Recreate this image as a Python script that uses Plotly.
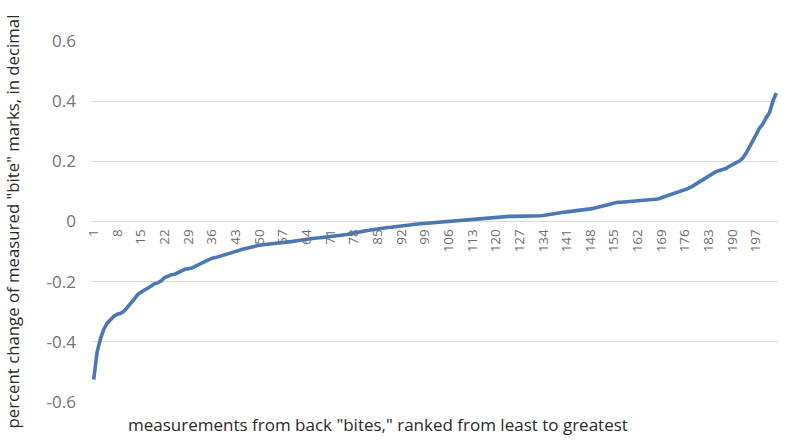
import plotly.graph_objects as go

# ranked measurement index (categories)
ranks = list(range(1, 204))

# percent change of measured "bite" marks (decimal), ranked least -> greatest
values = [
    -0.525, -0.435, -0.390, -0.358, -0.338, -0.325, -0.315, -0.308, -0.305, -0.298,
    -0.286, -0.272, -0.258, -0.243, -0.234, -0.228, -0.222, -0.213, -0.207, -0.204,
    -0.197, -0.186, -0.180, -0.177, -0.175, -0.170, -0.163, -0.159, -0.157, -0.155,
    -0.149, -0.143, -0.137, -0.131, -0.126, -0.122, -0.120, -0.117, -0.113, -0.109,
    -0.105, -0.102, -0.100, -0.096, -0.092, -0.089, -0.087, -0.085, -0.082, -0.079,
    -0.077, -0.076, -0.075, -0.074, -0.073, -0.072, -0.071, -0.070, -0.068, -0.066,
    -0.064, -0.062, -0.061, -0.060, -0.059, -0.057, -0.055, -0.054, -0.053, -0.052,
    -0.051, -0.050, -0.049, -0.047, -0.045, -0.043, -0.041, -0.038, -0.036, -0.034,
    -0.032, -0.030, -0.028, -0.026, -0.024, -0.022, -0.021, -0.020, -0.019, -0.018,
    -0.017, -0.016, -0.014, -0.012, -0.011, -0.009, -0.008, -0.006, -0.005, -0.004,
    -0.003, -0.002, -0.001, 0.000, 0.001, 0.002, 0.003, 0.003, 0.004, 0.005,
    0.006, 0.006, 0.007, 0.008, 0.009, 0.010, 0.011, 0.011, 0.012, 0.013,
    0.014, 0.015, 0.016, 0.017, 0.017, 0.017, 0.018, 0.018, 0.018, 0.018,
    0.018, 0.018, 0.019, 0.020, 0.022, 0.025, 0.028, 0.029, 0.030, 0.031,
    0.032, 0.033, 0.035, 0.037, 0.039, 0.040, 0.041, 0.042, 0.044, 0.047,
    0.050, 0.054, 0.058, 0.061, 0.063, 0.064, 0.064, 0.065, 0.065, 0.066,
    0.066, 0.067, 0.068, 0.069, 0.070, 0.071, 0.072, 0.075, 0.079, 0.083,
    0.086, 0.089, 0.093, 0.097, 0.100, 0.104, 0.110, 0.116, 0.123, 0.130,
    0.138, 0.145, 0.151, 0.158, 0.165, 0.169, 0.171, 0.176, 0.183, 0.190,
    0.195, 0.200, 0.210, 0.226, 0.245, 0.265, 0.288, 0.310, 0.324, 0.345,
    0.362, 0.400, 0.427,
]

x_tick_vals = [1, 8, 15, 22, 29, 36, 43, 50, 57, 64, 71, 78, 85, 92, 99, 106, 113,
               120, 127, 134, 141, 148, 155, 162, 169, 176, 183, 190, 197]
x_tick_text = ["1", "8", "15", "22", "29", "36", "43", "50", "57", "64", "71", "78",
               "85", "92", "99", "106", "113", "120", "127", "134", "141", "148",
               "155", "162", "169", "176", "183", "190", "197"]
y_tick_vals = [-0.6, -0.4, -0.2, 0, 0.2, 0.4, 0.6]
y_tick_text = ["-0.6", "-0.4", "-0.2", "0", "0.2", "0.4", "0.6"]

y_title = 'percent change of measured "bite" marks, in decimal'
x_title = 'measurements from back "bites," ranked from least to greatest'

fig = go.Figure(
    go.Scatter(
        x=ranks,
        y=values,
        mode="lines",
        line=dict(color="#4a78b5", width=3.6),
        hoverinfo="x+y",
    )
)

fig.update_layout(
    width=796,
    height=442,
    margin=dict(l=92, r=18, t=41, b=40),
    paper_bgcolor="white",
    plot_bgcolor="white",
    showlegend=False,
    font=dict(family="Open Sans", color="#6a6a6a"),
    annotations=[
        dict(
            text=y_title, xref="paper", yref="paper",
            x=-0.1166, y=0.5, xanchor="center", yanchor="middle",
            textangle=-90, showarrow=False,
            font=dict(family="Open Sans", size=16.8, color="#2a2a2a"),
        ),
        dict(
            text=x_title, xref="paper", yref="paper",
            x=0.4175, y=-0.062, xanchor="center", yanchor="middle",
            showarrow=False,
            font=dict(family="Open Sans", size=17, color="#2a2a2a"),
        ),
    ],
)

fig.update_xaxes(
    range=[0.5, 203.5],
    tickmode="array",
    tickvals=x_tick_vals,
    ticktext=x_tick_text,
    tickangle=-90,
    anchor="free",
    position=0.5,
    showgrid=False,
    zeroline=False,
    showline=False,
    ticks="",
    ticklabelstandoff=4,
    tickfont=dict(family="Open Sans", size=13.5, color="#6e6e6e"),
)

fig.update_yaxes(
    range=[-0.6, 0.6],
    tickmode="array",
    tickvals=y_tick_vals,
    ticktext=y_tick_text,
    showgrid=True,
    gridcolor="#d9d9d9",
    gridwidth=1,
    zeroline=False,
    showline=False,
    ticks="",
    ticklabelstandoff=15,
    tickfont=dict(family="Open Sans", size=17, color="#747474"),
)

# remove the browser's default 8px body margin so the 796x442 figure fills the window
fig.write_html(
    "out.html",
    config={"displayModeBar": False},
    post_script="document.body.style.margin='0';document.body.style.overflow='hidden';",
)
